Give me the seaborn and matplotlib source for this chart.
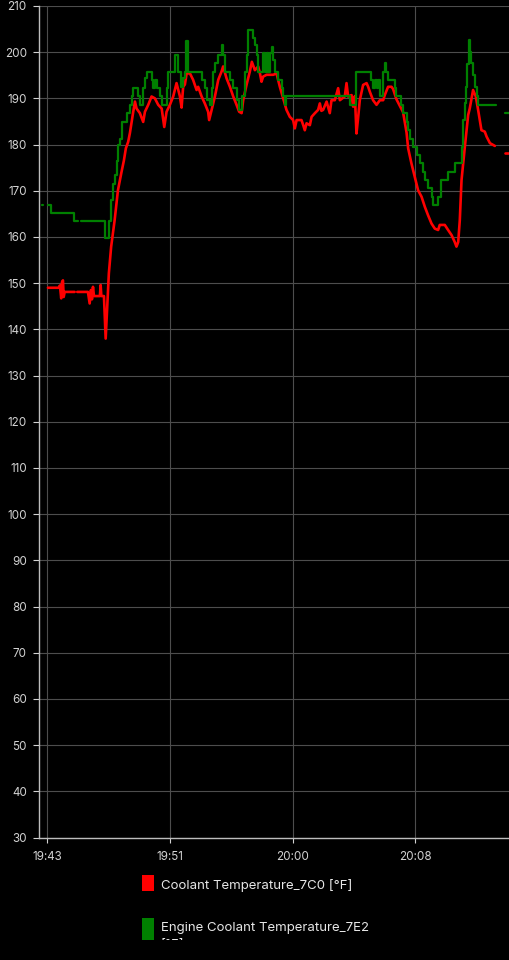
import numpy as np
import pandas as pd
import matplotlib.pyplot as plt
import matplotlib.dates as mdates
from matplotlib.patches import Rectangle
from matplotlib.transforms import Bbox
import seaborn as sns

# minutes after 19:43:00, None = gap in the log
coolant_7c0_min = [-0.35, None, 0.05, 0.79, 0.88, 0.97, 1.02, 1.09, 1.14, 1.21, 1.90, None, 2.08, 2.82,
                   2.94, 3.03, 3.10, 3.17, 3.24, 3.65, 3.70, 3.75, 3.93, 4.05, 4.21, 4.27, 4.43, 4.67,
                   4.90, 5.15, 5.31, 5.45, 5.61, 5.73, 5.96, 6.08, 6.19, 6.42, 6.65, 6.77, 7.00, 7.23,
                   7.46, 7.69, 7.93, 8.11, 8.27, 8.50, 8.73, 8.96, 9.08, 9.19, 9.31, 9.42, 9.54, 9.66,
                   9.89, 10.11, 10.35, 10.46, 10.70, 10.92, 11.15, 11.22, 11.39, 11.62, 11.85, 12.08,
                   12.19, 12.43, 12.66, 12.89, 13.12, 13.30, 13.47, 13.58, 13.81, 14.04, 14.18, 14.39,
                   14.62, 14.74, 14.85, 14.96, 15.20, 15.66, 15.89, 16.00, 16.12, 16.35, 16.58, 16.81,
                   17.04, 17.16, 17.28, 17.62, 17.74, 17.85, 17.97, 18.20, 18.32, 18.55, 18.77, 18.89,
                   19.00, 19.12, 19.36, 19.58, 19.70, 19.93, 20.16, 20.28, 20.62, 20.74, 20.85, 21.09,
                   21.20, 21.32, 21.43, 21.55, 21.66, 21.89, 22.13, 22.24, 22.36, 22.58, 22.82, 23.05,
                   23.28, 23.39, 23.62, 23.86, 23.97, 24.20, 24.43, 24.66, 24.90, 25.01, 25.24, 25.47,
                   25.70, 25.94, 26.17, 26.39, 26.63, 26.86, 27.09, 27.20, 27.55, 27.78, 28.02, 28.24,
                   28.36, 28.48, 28.59, 28.71, 28.94, 29.17, 29.28, 29.51, 29.70, 29.86, 30.09, 30.32,
                   30.45, 30.68, 31.02, None, 31.71, 32.20]
coolant_7c0_temp = [149.0, None, 149.0, 149.0, 149.5, 146.7, 150.2, 150.6, 147.0, 148.1, 148.1, None, 148.1, 148.1,
                    145.6, 148.5, 146.5, 149.2, 147.2, 147.2, 149.6, 147.2, 147.2, 138.0, 148.5, 152.1, 157.9, 163.6,
                    170.1, 174.1, 176.5, 179.2, 180.6, 182.5, 187.1, 189.3, 187.8, 186.8, 184.9, 187.1, 188.6, 190.4,
                    190.0, 188.6, 187.8, 183.8, 187.1, 188.6, 190.4, 193.3, 191.8, 190.5, 188.0, 192.5, 193.0, 195.4,
                    195.4, 194.0, 191.8, 192.5, 190.4, 188.9, 187.1, 185.3, 187.5, 190.4, 194.0, 195.8,
                    196.9, 194.3, 192.5, 190.4, 188.6, 187.1, 186.8, 189.6, 192.9, 195.8, 197.9, 196.1,
                    196.9, 195.4, 193.6, 194.7, 195.1, 195.1, 195.4, 194.0, 192.5, 190.0, 187.5, 186.0,
                    185.3, 183.5, 185.3, 185.3, 184.2, 183.1, 184.6, 184.2, 186.0, 186.8, 187.5, 188.9,
                    187.3, 187.5, 189.3, 186.8, 189.6, 189.6, 192.2, 189.6, 190.4, 193.3, 190.4, 190.7,
                    188.2, 190.5, 182.4, 186.0, 189.6, 192.9, 193.3, 192.5, 191.4, 189.6, 188.6, 189.6,
                    189.6, 190.7, 192.5, 192.5, 192.0, 189.8, 188.4, 187.0, 182.6, 179.2, 175.9, 173.0,
                    170.1, 168.7, 166.5, 164.7, 162.9, 161.8, 161.5, 162.6, 162.6, 161.5, 160.4, 158.9,
                    157.9, 158.9, 163.6, 172.3, 179.5, 186.4, 187.8, 191.8, 190.4, 187.5, 183.1, 182.8,
                    181.7, 180.3, 179.7, None, 178.1, 178.1]

engine_7e2_min = [-0.35, -0.26, None, 0.05, 0.29, 1.85, 2.13, None, 2.33, 3.98, 4.27, 4.41, 4.55, 4.68,
                  4.82, 4.92, 5.04, 5.15, 5.50, 5.73, 5.85, 5.96, 6.30, 6.42, 6.65, 6.77, 6.89, 7.23,
                  7.34, 7.46, 7.58, 7.81, 7.93, 8.27, 8.38, 8.85, 9.08, 9.26, 9.42, 9.54, 9.64, 9.77,
                  10.70, 10.92, 11.04, 11.27, 11.39, 11.50, 11.62, 11.85, 12.08, 12.19, 12.31, 12.66,
                  12.89, 13.12, 13.30, 13.47, 13.70, 13.81, 13.92, 14.27, 14.39, 14.51, 14.62, 14.96,
                  15.08, 15.20, 15.31, 15.43, 15.55, 15.66, 15.78, 16.00, 16.24, 16.35, 16.47, 16.58,
                  20.97, 21.43, 22.47, 22.59, 22.70, 22.82, 22.93, 23.05, 23.28, 23.40, 23.51, 23.62,
                  24.09, 24.20, 24.55, 24.66, 24.90, 25.01, 25.13, 25.36, 25.59, 25.82, 26.05, 26.17,
                  26.39, 26.63, 26.74, 27.09, 27.32, 27.78, 28.24, 28.71, 28.82, 28.94, 29.01, 29.11,
                  29.21, 29.31, 29.40, 29.52, 29.63, 29.75, 29.86, 31.08, None, 31.71, 32.20]
engine_7e2_temp = [167.0, 167.0, None, 167.0, 165.1, 163.4, 163.4, None, 163.4, 159.7, 163.4, 168.0, 171.5, 173.4,
                   176.5, 179.9, 181.3, 184.9, 186.8, 188.6, 190.4, 192.2, 190.4, 188.6, 192.2, 194.3, 195.7, 194.0,
                   192.2, 194.0, 192.2, 190.4, 188.6, 192.2, 195.7, 199.4, 195.7, 192.5, 194.3, 195.7, 202.5, 195.8,
                   194.0, 192.2, 189.6, 188.6, 192.2, 195.8, 197.6, 199.4, 201.5, 199.4, 195.8, 194.0,
                   192.2, 189.6, 187.5, 190.4, 195.8, 199.4, 204.8, 203.0, 201.5, 199.4, 195.8, 199.8,
                   195.8, 199.8, 195.8, 199.8, 201.2, 198.3, 195.8, 194.0, 192.2, 190.4, 188.6, 190.4,
                   188.6, 195.8, 194.0, 192.2, 194.0, 192.2, 194.0, 190.4, 195.8, 197.6, 195.8, 194.0,
                   192.2, 190.4, 188.6, 186.8, 184.9, 183.1, 181.3, 179.5, 177.7, 175.9, 174.1, 172.3,
                   170.5, 168.7, 166.9, 168.7, 172.3, 174.1, 175.9, 179.5, 185.3, 189.0, 192.5, 197.5,
                   202.6, 200.0, 197.6, 195.0, 192.5, 190.4, 188.6, 188.6, None, 186.8, 186.8]

start = pd.Timestamp("2024-01-01 19:43:00")
tick_minutes = [0, 8.5, 17, 25.5]
legend_lines = [["Coolant Temperature_7C0 [°F]"], ["Engine Coolant Temperature_7E2", "[°F]"]]
colors = ["#ff0000", "#008000"]


def to_frame(mins, temps):
    df = pd.DataFrame({"min": mins, "temp": temps}, dtype=float)
    df["seg"] = df["temp"].isna().cumsum()      # new segment after each gap
    df = df.dropna()
    df["time"] = start + pd.to_timedelta(df["min"], unit="m")
    return df


red_df = to_frame(coolant_7c0_min, coolant_7c0_temp)
green_df = to_frame(engine_7e2_min, engine_7e2_temp)

sns.set_theme(style="dark", rc={"axes.facecolor": "black", "figure.facecolor": "black"})
plt.rcParams["font.family"] = ["Inter", "DejaVu Sans"]

fig = plt.figure(figsize=(5.09, 9.6), dpi=100)
ax = fig.add_axes([0.0772, 0.1276, 0.9228, 0.8662])

sns.lineplot(data=red_df, x="time", y="temp", units="seg", estimator=None, color=colors[0],
             linewidth=1.9, ax=ax, legend=False)
sns.lineplot(data=green_df, x="time", y="temp", units="seg", estimator=None, color=colors[1],
             linewidth=1.6, drawstyle="steps-post", ax=ax, legend=False)

ax.set_ylim(30, 210)
ax.set_yticks(range(30, 211, 10))
ax.set_xlim(start - pd.Timedelta(seconds=33), start + pd.Timedelta(minutes=32))
ticks = [start + pd.Timedelta(minutes=m) for m in tick_minutes]
ax.set_xticks(ticks)
ax.xaxis.set_major_formatter(mdates.DateFormatter("%H:%M"))
ax.set_xlabel("")
ax.set_ylabel("")

ax.grid(True, color="#4d4d4d", linewidth=0.8)
ax.set_axisbelow(True)
ax.tick_params(axis="both", colors="#d2d2d2", labelsize=8.4, length=4.5, width=0.8,
               left=True, bottom=True)
ax.tick_params(axis="y", pad=4.5)
ax.tick_params(axis="x", pad=6, length=3.5)
for side in ["top", "right"]:
    ax.spines[side].set_visible(False)
for side in ["left", "bottom"]:
    ax.spines[side].set_visible(True)
    ax.spines[side].set_color("#bdbdbd")
    ax.spines[side].set_linewidth(1.0)

# legend below the plot, cut off at the bottom like the screenshot
clip = Bbox([[0, 20], [509, 960]])
sq_top = [875, 918]
sq_bottom = [891, 940]
baselines = [[888.5], [931, 948]]
for i, lines in enumerate(legend_lines):
    r = Rectangle((142 / 509, (960 - sq_bottom[i]) / 960), 12 / 509, (sq_bottom[i] - sq_top[i]) / 960,
                  transform=fig.transFigure, facecolor=colors[i], edgecolor="none")
    fig.patches.append(r)
    for line, base in zip(lines, baselines[i]):
        t = fig.text(161 / 509, (960 - base) / 960, line, color="#e6e6e6", fontsize=9.5,
                     va="baseline", ha="left")
        t.set_clip_box(clip)
        t.set_clip_on(True)

fig.savefig("out.png", dpi=100, facecolor="black")
